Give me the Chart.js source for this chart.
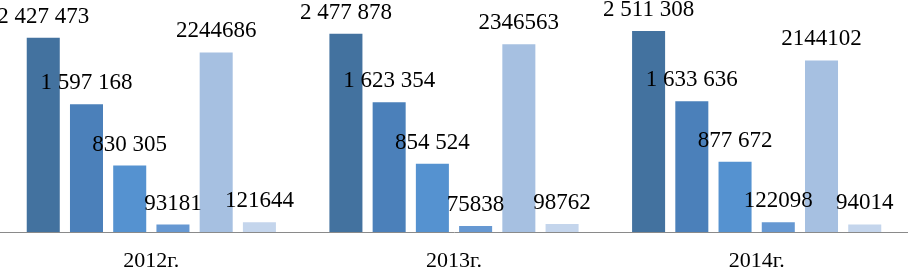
<!DOCTYPE html>
<html lang="ru">
<head>
    <meta charset="UTF-8">
    <title>Chart</title>
    <script src="https://cdn.jsdelivr.net/npm/chart.js"></script>
    <style>
        body {
            margin: 0;
            padding: 0;
            background-color: #fff;
        }
        .wrap {
            width: 908px;
            height: 269px;
        }
    </style>
</head>
<body>
    <div class="wrap">
        <canvas id="barChart" width="908" height="269"></canvas>
    </div>

    <script>
        // categories (years)
        const years = ['2012г.', '2013г.', '2014г.'];

        // six series, values per year
        const series1 = [2427473, 2477878, 2511308];
        const series2 = [1597168, 1623354, 1633636];
        const series3 = [830305, 854524, 877672];
        const series4 = [93181, 75838, 122098];
        const series5 = [2244686, 2346563, 2144102];
        const series6 = [121644, 98762, 94014];

        const seriesNames = ['Ряд 1', 'Ряд 2', 'Ряд 3', 'Ряд 4', 'Ряд 5', 'Ряд 6'];
        const colors = ['#43729f', '#4b80ba', '#5592d0', '#6698d2', '#a6c0e1', '#c4d5ec'];
        // first three series show numbers with thousands spaces
        const spaced = [true, true, true, false, false, false];

        const allSeries = [series1, series2, series3, series4, series5, series6];

        const serif = '"Liberation Serif", "Times New Roman", serif';

        function fmt(v, withSpace) {
            const s = String(v);
            if (!withSpace) return s;
            return s.replace(/\B(?=(\d{3})+(?!\d))/g, ' ');
        }

        // draw value labels above the bars
        const valueLabels = {
            id: 'valueLabels',
            afterDatasetsDraw(chart) {
                const ctx = chart.ctx;
                ctx.save();
                ctx.font = '23px ' + serif;
                ctx.fillStyle = '#000';
                ctx.textAlign = 'center';
                ctx.textBaseline = 'alphabetic';
                chart.data.datasets.forEach((ds, i) => {
                    chart.getDatasetMeta(i).data.forEach((bar, j) => {
                        ctx.fillText(fmt(ds.data[j], spaced[i]), bar.x, bar.y - 15);
                    });
                });
                ctx.restore();
            }
        };

        const ctx = document.getElementById('barChart').getContext('2d');
        new Chart(ctx, {
            type: 'bar',
            data: {
                labels: years,
                datasets: allSeries.map((d, i) => ({
                    label: seriesNames[i],
                    data: d,
                    backgroundColor: colors[i],
                    categoryPercentage: 0.857,
                    barPercentage: 0.764
                }))
            },
            options: {
                responsive: false,
                animation: false,
                layout: { padding: 0 },
                plugins: {
                    legend: { display: false },
                    tooltip: { enabled: false }
                },
                scales: {
                    x: {
                        grid: { display: false, drawTicks: false, tickLength: 0 },
                        border: { display: true, color: '#8a8a8a', width: 1 },
                        ticks: {
                            color: '#000',
                            padding: 16,
                            font: { family: serif, size: 22 }
                        },
                        afterFit(scale) {
                            scale.height = 37;
                        }
                    },
                    y: {
                        display: false,
                        min: 0,
                        max: 2900000
                    }
                }
            },
            plugins: [valueLabels]
        });
    </script>
</body>
</html>
